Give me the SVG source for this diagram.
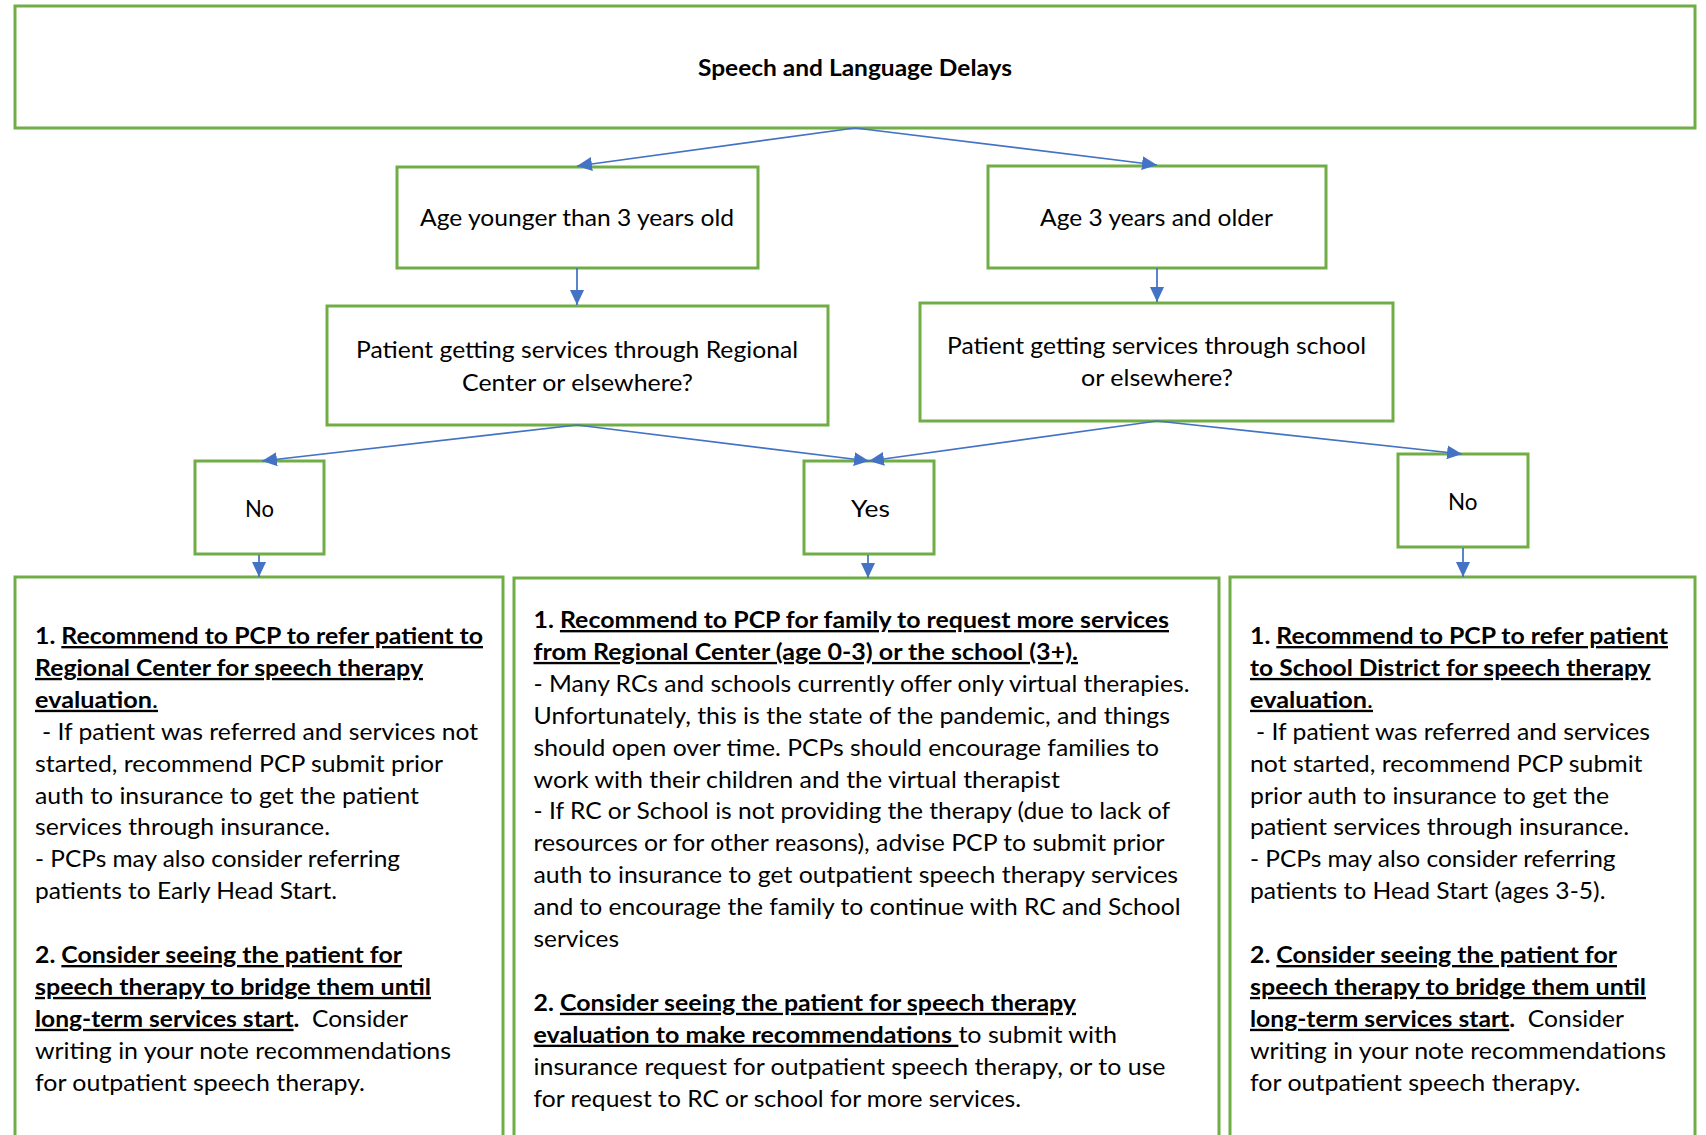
<svg xmlns="http://www.w3.org/2000/svg" width="1706" height="1135" viewBox="0 0 1706 1135">
<style>
.box{fill:#fff;stroke:#70AD47;stroke-width:3}
.t{font-family:Lato,"Liberation Sans",sans-serif;font-size:23.5px;fill:#000}
.title{font-family:Lato,"Liberation Sans",sans-serif;font-size:22.5px;font-weight:bold;fill:#000}
.b{font-weight:bold}
.u{text-decoration:underline}
.conn path{stroke:#4472C4;stroke-width:1.75;fill:none;marker-end:url(#arr)}
</style>
<defs>
<marker id="arr" markerUnits="userSpaceOnUse" markerWidth="16" markerHeight="14" refX="15" refY="7" orient="auto">
<path d="M0,0 L15,7 L0,14 z" fill="#4472C4"/>
</marker>
</defs>
<rect width="1706" height="1135" fill="#fff"/>

<g id="n-title">
<rect class="box" x="15" y="6" width="1680" height="122"/>
<text class="title" x="698" y="76" textLength="314" lengthAdjust="spacingAndGlyphs">Speech and Language Delays</text>
</g>

<g id="n-under3">
<rect class="box" x="397" y="167" width="361" height="101"/>
<text class="t" x="420" y="226" textLength="314" lengthAdjust="spacingAndGlyphs">Age younger than 3 years old</text>
</g>

<g id="n-over3">
<rect class="box" x="988" y="166" width="338" height="102"/>
<text class="t" x="1040" y="226" textLength="233" lengthAdjust="spacingAndGlyphs">Age 3 years and older</text>
</g>

<g id="n-rc">
<rect class="box" x="327" y="306" width="501" height="119"/>
<text class="t" x="356" y="358" textLength="442" lengthAdjust="spacingAndGlyphs">Patient getting services through Regional</text>
<text class="t" x="462" y="390.5" textLength="231" lengthAdjust="spacingAndGlyphs">Center or elsewhere?</text>
</g>

<g id="n-school">
<rect class="box" x="920" y="303" width="473" height="118"/>
<text class="t" x="947" y="354" textLength="419" lengthAdjust="spacingAndGlyphs">Patient getting services through school</text>
<text class="t" x="1081" y="386" textLength="152" lengthAdjust="spacingAndGlyphs">or elsewhere?</text>
</g>

<g id="n-no-left">
<rect class="box" x="195" y="461" width="129" height="93"/>
<text class="t" x="245" y="517" textLength="29" lengthAdjust="spacingAndGlyphs">No</text>
</g>

<g id="n-yes">
<rect class="box" x="804" y="461" width="130" height="93"/>
<text class="t" x="851" y="517" textLength="39" lengthAdjust="spacingAndGlyphs">Yes</text>
</g>

<g id="n-no-right">
<rect class="box" x="1398" y="454" width="130" height="93"/>
<text class="t" x="1448" y="510" textLength="29.5" lengthAdjust="spacingAndGlyphs">No</text>
</g>

<g id="n-left-actions">
<rect class="box" x="15" y="577" width="488" height="600"/>
<text class="t b" x="35" y="644" textLength="448" lengthAdjust="spacingAndGlyphs">1. <tspan class="u">Recommend to PCP to refer patient to</tspan></text>
<text class="t b u" x="35" y="675.9" textLength="388" lengthAdjust="spacingAndGlyphs">Regional Center for speech therapy</text>
<text class="t u" x="35" y="707.8" textLength="123" lengthAdjust="spacingAndGlyphs"><tspan class="b">evaluation</tspan>.</text>
<text class="t" x="42" y="739.7" textLength="436" lengthAdjust="spacingAndGlyphs">- If patient was referred and services not</text>
<text class="t" x="35" y="771.6" textLength="408" lengthAdjust="spacingAndGlyphs">started, recommend PCP submit prior</text>
<text class="t" x="35" y="803.5" textLength="384" lengthAdjust="spacingAndGlyphs">auth to insurance to get the patient</text>
<text class="t" x="35" y="835.4" textLength="295" lengthAdjust="spacingAndGlyphs">services through insurance.</text>
<text class="t" x="35" y="867.3" textLength="365" lengthAdjust="spacingAndGlyphs">- PCPs may also consider referring</text>
<text class="t" x="35" y="899.2" textLength="302" lengthAdjust="spacingAndGlyphs">patients to Early Head Start.</text>
<text class="t b" x="35" y="963" textLength="367" lengthAdjust="spacingAndGlyphs">2. <tspan class="u">Consider seeing the patient for</tspan></text>
<text class="t b u" x="35" y="994.9" textLength="396" lengthAdjust="spacingAndGlyphs">speech therapy to bridge them until</text>
<text class="t" x="35" y="1026.8" textLength="373" lengthAdjust="spacingAndGlyphs" xml:space="preserve"><tspan class="b u">long-term services start</tspan><tspan class="b">.</tspan>  Consider</text>
<text class="t" x="35" y="1058.7" textLength="416" lengthAdjust="spacingAndGlyphs">writing in your note recommendations</text>
<text class="t" x="35" y="1090.6" textLength="330" lengthAdjust="spacingAndGlyphs">for outpatient speech therapy.</text>
</g>

<g id="n-mid-actions">
<rect class="box" x="514" y="578" width="705" height="600"/>
<text class="t b" x="533.5" y="628" textLength="635.5" lengthAdjust="spacingAndGlyphs">1. <tspan class="u">Recommend to PCP for family to request more services</tspan></text>
<text class="t b u" x="533.5" y="659.9" textLength="544.5" lengthAdjust="spacingAndGlyphs">from Regional Center (age 0-3) or the school (3+).</text>
<text class="t" x="533.5" y="691.8" textLength="656" lengthAdjust="spacingAndGlyphs">- Many RCs and schools currently offer only virtual therapies.</text>
<text class="t" x="533.5" y="723.7" textLength="636.5" lengthAdjust="spacingAndGlyphs">Unfortunately, this is the state of the pandemic, and things</text>
<text class="t" x="533.5" y="755.6" textLength="625.5" lengthAdjust="spacingAndGlyphs">should open over time. PCPs should encourage families to</text>
<text class="t" x="533.5" y="787.5" textLength="526.5" lengthAdjust="spacingAndGlyphs">work with their children and the virtual therapist</text>
<text class="t" x="533.5" y="819.4" textLength="636.5" lengthAdjust="spacingAndGlyphs">- If RC or School is not providing the therapy (due to lack of</text>
<text class="t" x="533.5" y="851.3" textLength="631" lengthAdjust="spacingAndGlyphs">resources or for other reasons), advise PCP to submit prior</text>
<text class="t" x="533.5" y="883.2" textLength="644.5" lengthAdjust="spacingAndGlyphs">auth to insurance to get outpatient speech therapy services</text>
<text class="t" x="533.5" y="915.1" textLength="647" lengthAdjust="spacingAndGlyphs">and to encourage the family to continue with RC and School</text>
<text class="t" x="533.5" y="947" textLength="85.5" lengthAdjust="spacingAndGlyphs">services</text>
<text class="t b" x="533.5" y="1010.8" textLength="542.5" lengthAdjust="spacingAndGlyphs">2. <tspan class="u">Consider seeing the patient for speech therapy</tspan></text>
<text class="t" x="533.5" y="1042.7" textLength="583.5" lengthAdjust="spacingAndGlyphs" xml:space="preserve"><tspan class="b u">evaluation to make recommendations</tspan><tspan class="u"> </tspan>to submit with</text>
<text class="t" x="533.5" y="1074.6" textLength="632" lengthAdjust="spacingAndGlyphs">insurance request for outpatient speech therapy, or to use</text>
<text class="t" x="533.5" y="1106.5" textLength="487.5" lengthAdjust="spacingAndGlyphs">for request to RC or school for more services.</text>
</g>

<g id="n-right-actions">
<rect class="box" x="1230" y="577" width="465" height="600"/>
<text class="t b" x="1250" y="644" textLength="418" lengthAdjust="spacingAndGlyphs">1. <tspan class="u">Recommend to PCP to refer patient</tspan></text>
<text class="t b u" x="1250" y="675.9" textLength="400.5" lengthAdjust="spacingAndGlyphs">to School District for speech therapy</text>
<text class="t u" x="1250" y="707.8" textLength="123" lengthAdjust="spacingAndGlyphs"><tspan class="b">evaluation</tspan>.</text>
<text class="t" x="1256" y="739.7" textLength="394" lengthAdjust="spacingAndGlyphs">- If patient was referred and services</text>
<text class="t" x="1250" y="771.6" textLength="392.5" lengthAdjust="spacingAndGlyphs">not started, recommend PCP submit</text>
<text class="t" x="1250" y="803.5" textLength="359" lengthAdjust="spacingAndGlyphs">prior auth to insurance to get the</text>
<text class="t" x="1250" y="835.4" textLength="379" lengthAdjust="spacingAndGlyphs">patient services through insurance.</text>
<text class="t" x="1250" y="867.3" textLength="365.5" lengthAdjust="spacingAndGlyphs">- PCPs may also consider referring</text>
<text class="t" x="1250" y="899.2" textLength="355.5" lengthAdjust="spacingAndGlyphs">patients to Head Start (ages 3-5).</text>
<text class="t b" x="1250" y="963" textLength="367" lengthAdjust="spacingAndGlyphs">2. <tspan class="u">Consider seeing the patient for</tspan></text>
<text class="t b u" x="1250" y="994.9" textLength="396" lengthAdjust="spacingAndGlyphs">speech therapy to bridge them until</text>
<text class="t" x="1250" y="1026.8" textLength="374" lengthAdjust="spacingAndGlyphs" xml:space="preserve"><tspan class="b u">long-term services start</tspan><tspan class="b">.</tspan>  Consider</text>
<text class="t" x="1250" y="1058.7" textLength="416" lengthAdjust="spacingAndGlyphs">writing in your note recommendations</text>
<text class="t" x="1250" y="1090.6" textLength="330.5" lengthAdjust="spacingAndGlyphs">for outpatient speech therapy.</text>
</g>

<g id="connectors" class="conn">
<path d="M855,128 L577,166"/>
<path d="M855,128 L1157,165"/>
<path d="M577,268 L577,305"/>
<path d="M1157,268 L1157,302"/>
<path d="M577,425 L262,461"/>
<path d="M577,425 L869,461"/>
<path d="M1157,421 L869,461"/>
<path d="M1157,421 L1462,454"/>
<path d="M259,555 L259,577"/>
<path d="M868,555 L868,578"/>
<path d="M1463,548 L1463,577"/>
</g>
</svg>
